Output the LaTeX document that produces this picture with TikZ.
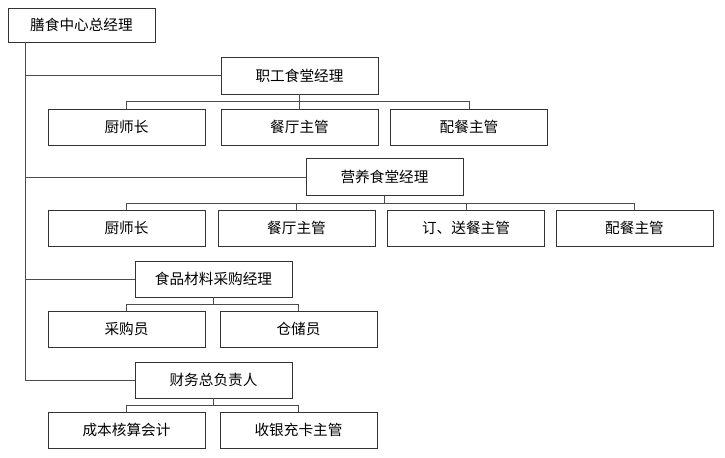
\documentclass[tikz,border=0pt]{standalone}
\usepackage{fontspec}
\setmainfont{Noto Sans CJK SC}
\begin{document}
\begin{tikzpicture}[x=0.03cm,y=-0.03cm,
    box/.style={draw=black!80,line width=0.8pt,minimum width=4.71cm,minimum height=1.08cm,inner sep=0pt,font=\fontsize{12.5}{14}\selectfont},
    link/.style={draw=black!70,line width=0.7pt}]
    \useasboundingbox (0,0) rectangle (725,458);

    % head
    \node[box,minimum width=4.41cm,minimum height=1.02cm] (top) at (81.5,25) {膳食中心总经理};

    % managers
    \node[box,minimum height=1.11cm] (m1) at (299.5,75.5) {职工食堂经理};
    \node[box,minimum height=1.11cm] (m2) at (384.5,177) {营养食堂经理};
    \node[box] (m3) at (213.5,279) {食品材料采购经理};
    \node[box] (m4) at (213.5,380) {财务总负责人};

    % staff
    \node[box] (c11) at (126.5,127) {厨师长};
    \node[box] (c12) at (299.5,127) {餐厅主管};
    \node[box] (c13) at (469,127) {配餐主管};

    \node[box] (c21) at (126.5,228) {厨师长};
    \node[box] (c22) at (296.5,228) {餐厅主管};
    \node[box] (c23) at (466,228) {订、送餐主管};
    \node[box] (c24) at (634.5,228) {配餐主管};

    \node[box] (c31) at (126.5,329) {采购员};
    \node[box] (c32) at (298.5,329) {仓储员};

    \node[box] (c41) at (126.5,430) {成本核算会计};
    \node[box] (c42) at (298.5,430) {收银充卡主管};

    % trunk
    \coordinate (t) at (25,42);
    \draw[link] (t) -- (t |- m4.west);
    \draw[link] (m1.west) -| (t);
    \draw[link] (m2.west) -| (t);
    \draw[link] (m3.west) -| (t);
    \draw[link] (m4.west) -| (t);

    % bars
    \coordinate (b1) at (0,101);
    \coordinate (b2) at (0,203);
    \coordinate (b3) at (0,304);
    \coordinate (b4) at (0,405);

    \draw[link] (m1.south) -- (m1.south |- b1);
    \draw[link] (c11.north) |- (b1 -| c13.north) -- (c13.north);
    \draw[link] (c12.north) -- (c12.north |- b1);

    \draw[link] (m2.south) -- (m2.south |- b2);
    \draw[link] (c21.north) |- (b2 -| c24.north) -- (c24.north);
    \draw[link] (c22.north) -- (c22.north |- b2);
    \draw[link] (c23.north) -- (c23.north |- b2);

    \draw[link] (m3.south) -- (m3.south |- b3);
    \draw[link] (c31.north) |- (b3 -| c32.north) -- (c32.north);

    \draw[link] (m4.south) -- (m4.south |- b4);
    \draw[link] (c41.north) |- (b4 -| c42.north) -- (c42.north);
\end{tikzpicture}
\end{document}
